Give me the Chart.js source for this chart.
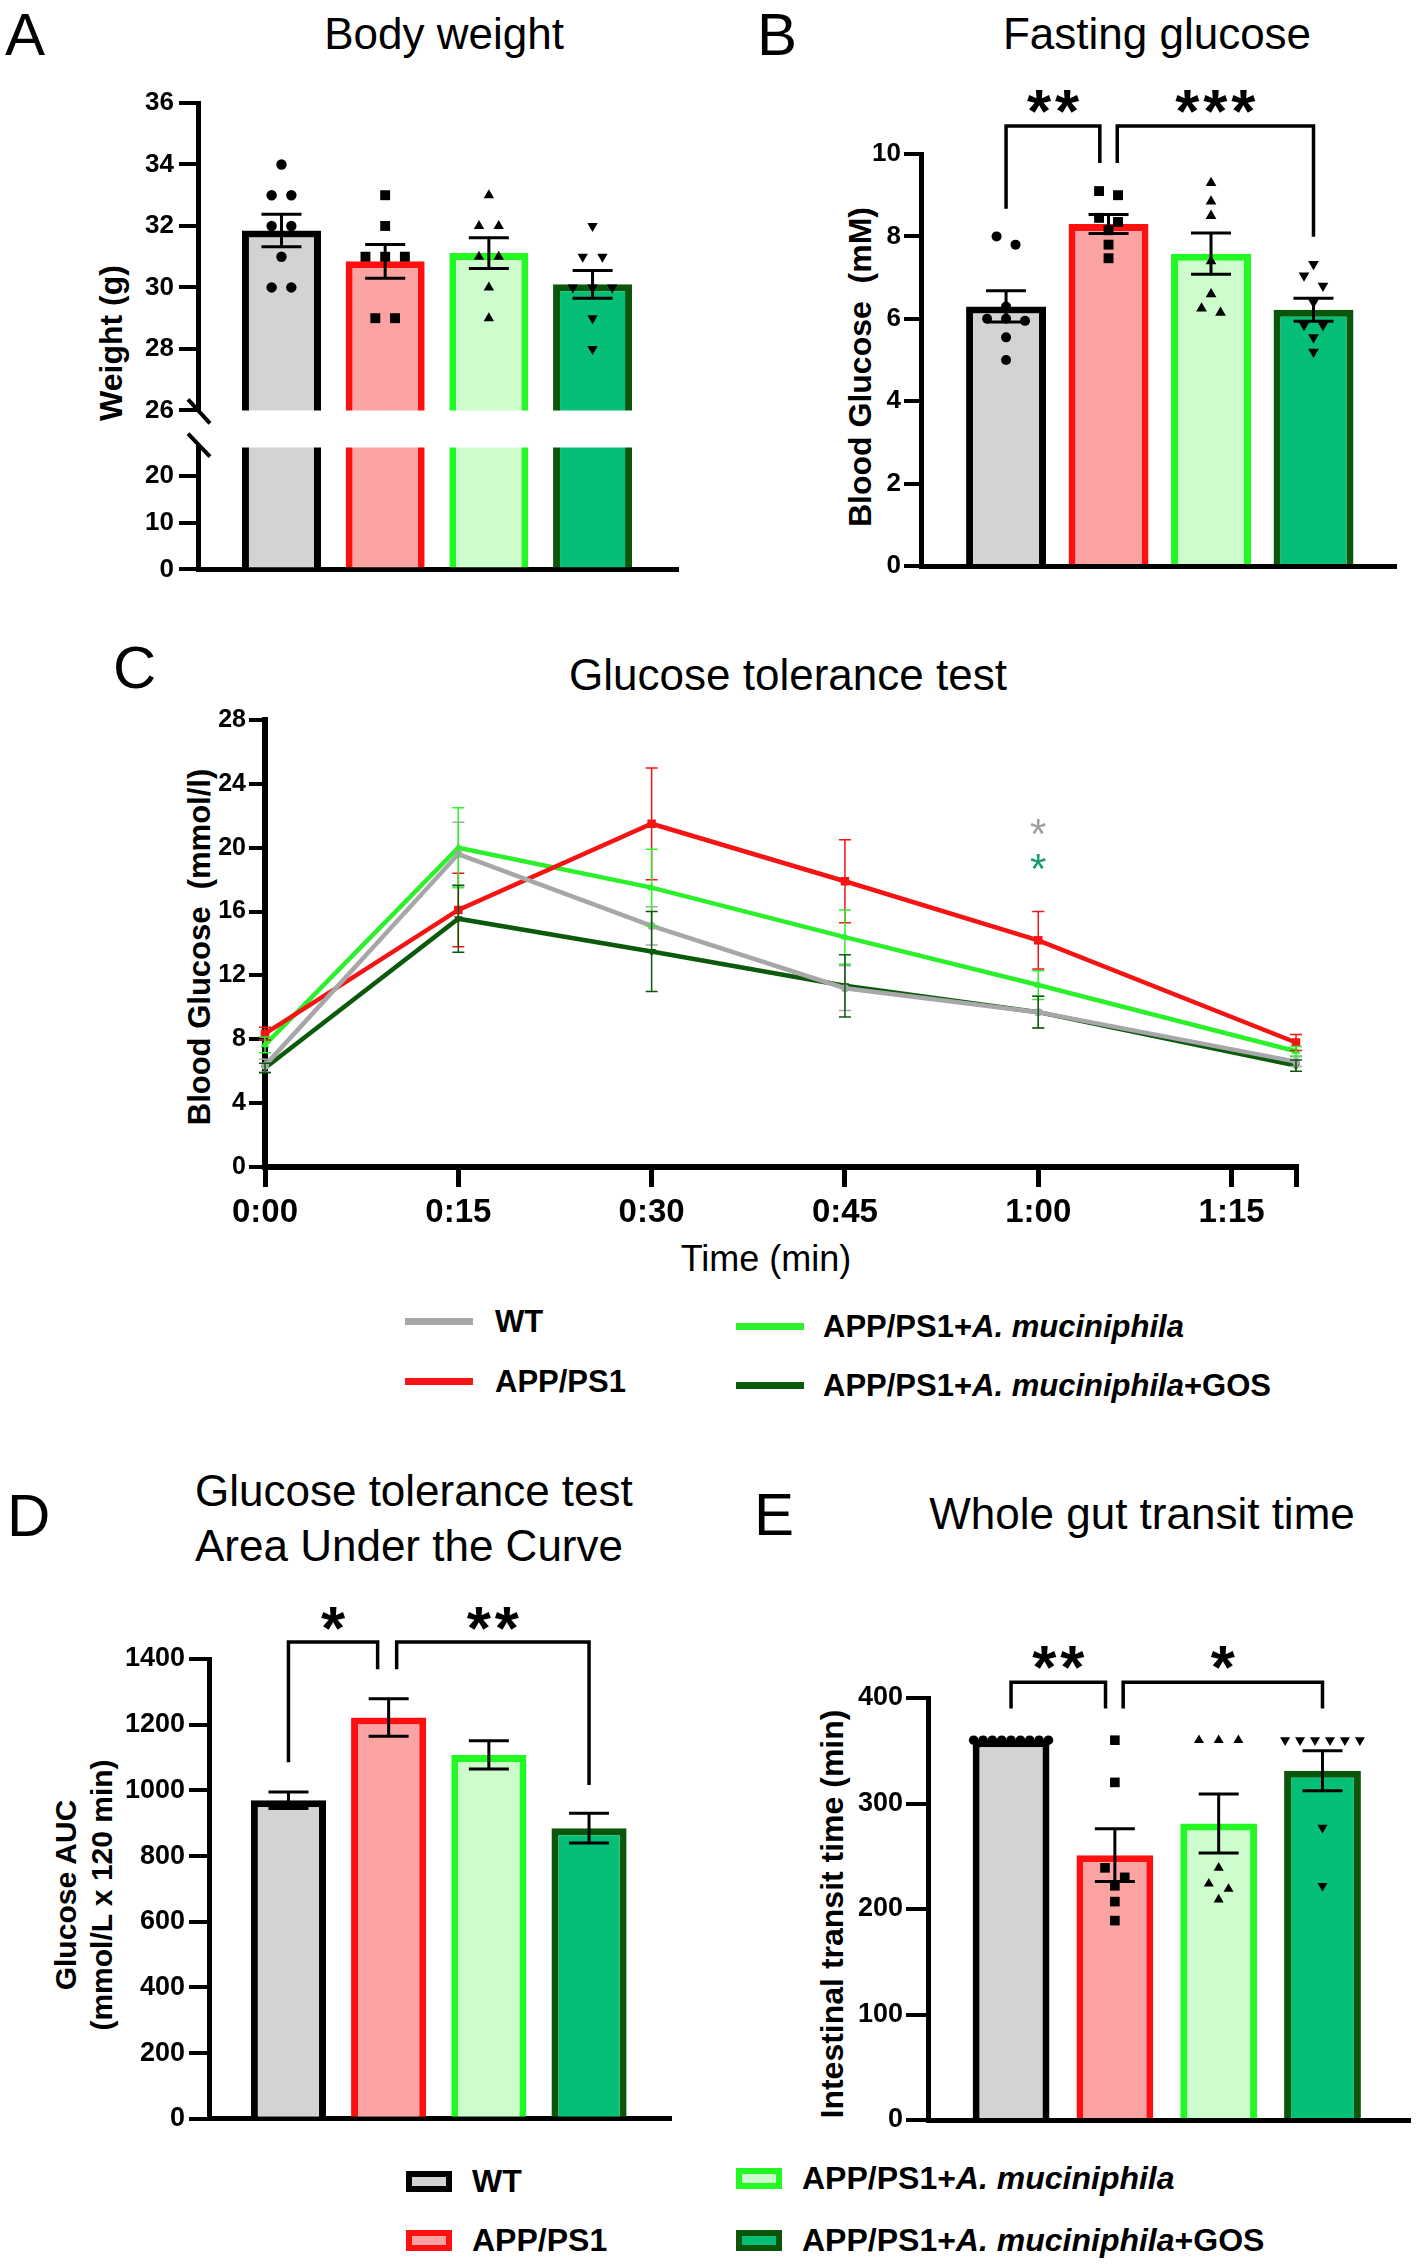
<!DOCTYPE html>
<html>
<head>
<meta charset="utf-8">
<title>Body weight, glucose tolerance and gut transit</title>
<script src="https://cdn.jsdelivr.net/npm/chart.js@4.4.1/dist/chart.umd.min.js"></script>
<style>
  body { margin: 0; background: #fff; }
  #fig { position: relative; width: 1418px; height: 2266px; overflow: hidden; background: #fff;
         font-family: "Liberation Sans", Arial, sans-serif; color: #000; }
  #fig canvas { position: absolute; }
  .t { position: absolute; line-height: 1; white-space: pre; }
  .c { transform: translate(-50%, -50%); }
  .l { transform: translateY(-50%); }
  .r { transform: translate(-50%, -50%) rotate(-90deg); text-align: center; }
  .b { font-weight: bold; }
  .title { font-size: 44px; }
  .panel { font-size: 60px; }
  .leg { font-size: 31px; font-weight: bold; }
  .leg2 { font-size: 32px; font-weight: bold; }
  .sw { position: absolute; height: 7px; width: 68px; }
  .box { position: absolute; width: 46px; height: 21px; border: 6px solid; box-sizing: border-box; }
</style>
</head>
<body>
<div id="fig">
  <div class="t l panel" style="left:5px;top:35px">A</div>
  <div class="t l panel" style="left:757px;top:35px">B</div>
  <div class="t l panel" style="left:113px;top:668px">C</div>
  <div class="t l panel" style="left:7px;top:1516px">D</div>
  <div class="t l panel" style="left:754px;top:1515px">E</div>

  <div class="t c title" style="left:444px;top:34px">Body weight</div>
  <div class="t c title" style="left:1157px;top:34px">Fasting glucose</div>
  <div class="t c title" style="left:788px;top:675px">Glucose tolerance test</div>
  <div class="t l title" style="left:195px;top:1491px">Glucose tolerance test</div>
  <div class="t l title" style="left:195px;top:1546px">Area Under the Curve</div>
  <div class="t c title" style="left:1142px;top:1514px">Whole gut transit time</div>

  <div class="t r b" style="left:111px;top:343px;font-size:32px">Weight (g)</div>
  <div class="t r b" style="left:860px;top:367px;font-size:32px">Blood Glucose  (mM)</div>
  <div class="t r b" style="left:199px;top:947px;font-size:31px">Blood Glucose  (mmol/l)</div>
  <div class="t c" style="left:766px;top:1259px;font-size:36px">Time (min)</div>
  <div class="t r b" style="left:84px;top:1895px;font-size:30px;line-height:36px">Glucose AUC
(mmol/L x 120 min)</div>
  <div class="t r b" style="left:832px;top:1914px;font-size:32px">Intestinal transit time (min)</div>

  <!-- legend of panel C -->
  <div class="sw" style="left:405px;top:1318px;background:#a7a7aa"></div>
  <div class="t l leg" style="left:495px;top:1321px">WT</div>
  <div class="sw" style="left:405px;top:1378px;background:#f41414"></div>
  <div class="t l leg" style="left:495px;top:1381px">APP/PS1</div>
  <div class="sw" style="left:736px;top:1323px;background:#2cf02c"></div>
  <div class="t l leg" style="left:823px;top:1326px">APP/PS1+<i>A. muciniphila</i></div>
  <div class="sw" style="left:736px;top:1382px;background:#0b5a0b"></div>
  <div class="t l leg" style="left:823px;top:1385px">APP/PS1+<i>A. muciniphila</i>+GOS</div>

  <!-- legend of the bar panels -->
  <div class="box" style="left:406px;top:2171px;border-color:#000;background:#d3d3d3"></div>
  <div class="t l leg2" style="left:472px;top:2181px">WT</div>
  <div class="box" style="left:406px;top:2230px;border-color:#ff1010;background:#fba3a3"></div>
  <div class="t l leg2" style="left:472px;top:2240px">APP/PS1</div>
  <div class="box" style="left:736px;top:2168px;border-color:#22f822;background:#cdfccd"></div>
  <div class="t l leg2" style="left:802px;top:2178px">APP/PS1+<i>A. muciniphila</i></div>
  <div class="box" style="left:736px;top:2230px;border-color:#0b560b;background:#05bf77"></div>
  <div class="t l leg2" style="left:802px;top:2240px">APP/PS1+<i>A. muciniphila</i>+GOS</div>
</div>

<script>
const FONT = '"Liberation Sans", Arial, sans-serif';

const groups = ["WT", "APP/PS1", "APP/PS1+A. muciniphila", "APP/PS1+A. muciniphila+GOS"];

// A - body weight (g)
const weightMean = [31.85, 30.85, 31.12, 30.1];
const weightSem = [0.53, 0.55, 0.5, 0.45];
const weightWT = [34, 33, 33, 32, 32, 31, 30, 30];
const weightAPP = [33, 32, 31, 31, 31, 29, 29];
const weightAkm = [33, 32, 32, 31, 31, 30, 29];
const weightGos = [32, 31, 31, 30, 30, 30, 29, 28];
const weightTicksTop = [26, 28, 30, 32, 34, 36];
const weightTicksBottom = [0, 10, 20];

// B - fasting glucose (mM)
const fastMean = [6.3, 8.3, 7.58, 6.22];
const fastSem = [0.38, 0.23, 0.5, 0.28];
const fastWT = [8.0, 7.8, 6.3, 6.0, 6.0, 5.95, 5.55, 5.0];
const fastAPP = [9.1, 9.0, 8.45, 8.35, 8.15, 7.8, 7.47];
const fastAkm = [9.3, 8.85, 8.5, 7.4, 6.6, 6.25, 6.15];
const fastGos = [7.33, 7.05, 6.8, 6.4, 5.85, 5.85, 5.55, 5.2];
const fastTicks = [0, 2, 4, 6, 8, 10];
const fastSig = ["**", "***"];

// C - glucose tolerance test (mmol/l)
const gttTimes = [0, 15, 30, 45, 60, 80];
const gttWT = [6.35, 19.6, 15.1, 11.2, 9.7, 6.6];
const gttWTSem = [0.4, 2.0, 1.2, 1.4, 1.0, 0.3];
const gttAPP = [8.35, 16.1, 21.5, 17.9, 14.2, 7.8];
const gttAPPSem = [0.4, 2.3, 3.5, 2.6, 1.8, 0.5];
const gttAkm = [7.65, 20.0, 17.5, 14.4, 11.4, 7.25];
const gttAkmSem = [0.5, 2.5, 2.4, 1.7, 0.9, 0.3];
const gttGos = [6.2, 15.55, 13.5, 11.35, 9.7, 6.35];
const gttGosSem = [0.3, 2.1, 2.5, 1.95, 1.0, 0.35];
const gttXTicks = [0, 15, 30, 45, 60, 75, 80];
const gttXLabels = ["0:00", "0:15", "0:30", "0:45", "1:00", "1:15", ""];
const gttYTicks = [0, 4, 8, 12, 16, 20, 24, 28];

// D - AUC
const aucMean = [970, 1222, 1108, 885];
const aucSem = [25, 57, 43, 45];
const aucTicks = [0, 200, 400, 600, 800, 1000, 1200, 1400];
const aucSig = ["*", "**"];

// E - whole gut transit time (min)
const transitMean = [360, 251, 281, 331];
const transitSem = [0, 25, 28, 19];
const transitWT = [360, 360, 360, 360, 360, 360, 360, 360, 360];
const transitAPP = [360, 320, 239, 230, 222, 207, 189];
const transitAkm = [360, 360, 360, 239, 224, 219, 209];
const transitGos = [360, 360, 360, 360, 360, 360, 277, 222];
const transitTicks = [0, 100, 200, 300, 400];
const transitSig = ["**", "*"];

// styles
const barFill = ["#d3d3d3", "#fba3a3", "#cdfccd", "#05bf77"];
const barEdge = ["#000000", "#ff1010", "#22f822", "#0b560b"];
const lineColor = ["#a7a7aa", "#f41414", "#2cf02c", "#0b5a0b"];
const markers = ["circle", "rect", "triangle", "triangle"];
const markerRot = [0, 0, 0, 180];

function makeCanvas(id, area, m) {
  const c = document.createElement("canvas");
  c.id = id;
  const w = area.right - area.left + m.l + m.r;
  const h = area.bottom - area.top + m.t + m.b;
  c.width = w;
  c.height = h;
  c.style.left = (area.left - m.l) + "px";
  c.style.top = (area.top - m.t) + "px";
  c.style.width = w + "px";
  c.style.height = h + "px";
  document.getElementById("fig").appendChild(c);
  return c;
}

// spread equal-ish values sideways, like a column scatter
function spread(values, thr, step, maxW) {
  const idx = values.map((v, i) => i).sort((a, b) => values[b] - values[a]);
  const off = new Array(values.length).fill(0);
  let k = 0;
  while (k < idx.length) {
    let j = k;
    while (j + 1 < idx.length && values[idx[k]] - values[idx[j + 1]] <= thr) j++;
    const n = j - k + 1;
    const s = n > 1 ? Math.min(step, maxW / (n - 1)) : 0;
    for (let q = 0; q < n; q++) off[idx[k + q]] = (q - (n - 1) / 2) * s;
    k = j + 1;
  }
  return off;
}

function semBars(means, sems, capW) {
  return {
    id: "semBars",
    afterDatasetsDraw(chart) {
      const { ctx, scales: { x, y } } = chart;
      ctx.save();
      ctx.strokeStyle = "#000";
      ctx.lineWidth = 3;
      means.forEach((mv, i) => {
        if (!sems[i]) return;
        const px = x.getPixelForValue(i);
        const hi = y.getPixelForValue(mv + sems[i]);
        const lo = y.getPixelForValue(mv - sems[i]);
        ctx.beginPath();
        ctx.moveTo(px, lo); ctx.lineTo(px, hi);
        ctx.moveTo(px - capW / 2, hi); ctx.lineTo(px + capW / 2, hi);
        ctx.moveTo(px - capW / 2, lo); ctx.lineTo(px + capW / 2, lo);
        ctx.stroke();
      });
      ctx.restore();
    }
  };
}

function drawStars(ctx, text, cx, cy, size, gap, color) {
  ctx.fillStyle = color;
  ctx.textAlign = "center";
  ctx.textBaseline = "alphabetic";
  const n = text.length;
  for (let k = 0; k < n; k++) {
    ctx.fillText("*", cx + (k - (n - 1) / 2) * gap, cy + 0.585 * size);
  }
}

// significance brackets: [from, to, top, leftLegEnd, rightLegEnd]
function brackets(list, labels, starY) {
  return {
    id: "brackets",
    afterDraw(chart) {
      const { ctx, scales: { x, y } } = chart;
      ctx.save();
      ctx.strokeStyle = "#000";
      ctx.lineWidth = 3.5;
      ctx.font = "bold 62px " + FONT;
      list.forEach((b, i) => {
        const x1 = x.getPixelForValue(b[0]);
        const x2 = x.getPixelForValue(b[1]);
        const yt = y.getPixelForValue(b[2]);
        ctx.beginPath();
        ctx.moveTo(x1, y.getPixelForValue(b[3]));
        ctx.lineTo(x1, yt);
        ctx.lineTo(x2, yt);
        ctx.lineTo(x2, y.getPixelForValue(b[4]));
        ctx.stroke();
        drawStars(ctx, labels[i], (x1 + x2) / 2, y.getPixelForValue(starY), 62, 28, "#000");
      });
      ctx.restore();
    }
  };
}

function barPanel(id, area, m, cfg) {
  const canvas = makeCanvas(id, area, m);
  const pts = (cfg.points || []).map((vals, g) => {
    const off = spread(vals, cfg.thr, cfg.step, cfg.maxW);
    return {
      type: "scatter",
      data: vals.map((v, k) => ({ x: g + off[k], y: v })),
      pointStyle: markers[g],
      pointRotation: markerRot[g],
      pointRadius: cfg.radius[g],
      backgroundColor: "#000",
      borderColor: "#000",
      borderWidth: 0,
      order: 1,
      clip: false
    };
  });
  return new Chart(canvas, {
    type: "bar",
    data: {
      datasets: [
        {
          type: "bar",
          label: "mean",
          data: cfg.means.map((v, i) => ({ x: i, y: v })),
          backgroundColor: barFill,
          borderColor: barEdge,
          borderWidth: 7,
          borderSkipped: "start",
          barPercentage: cfg.barW,
          categoryPercentage: 1,
          order: 2,
          clip: 0
        },
        ...pts
      ]
    },
    options: {
      responsive: false,
      animation: false,
      events: [],
      layout: { padding: { left: 0, top: m.t, right: m.r, bottom: 0 } },
      plugins: { legend: { display: false }, tooltip: { enabled: false } },
      scales: {
        x: {
          type: "linear",
          min: cfg.xMin,
          max: cfg.xMax,
          offset: false,
          afterBuildTicks: (s) => { s.ticks = groups.map((g, i) => ({ value: i })); },
          afterFit: (s) => { s.height = m.b; },
          grid: { display: false },
          ticks: { display: false },
          border: { display: cfg.xLine !== false, width: 5, color: "#000" }
        },
        y: {
          type: "linear",
          min: cfg.yMin,
          max: cfg.yMax,
          afterBuildTicks: (s) => { s.ticks = cfg.ticks.map((v) => ({ value: v })); },
          afterFit: (s) => { s.width = m.l; },
          grid: { drawOnChartArea: false, tickLength: cfg.tl, tickWidth: 4, tickColor: "#000", lineWidth: 4, color: "#000" },
          border: { width: 5, color: "#000" },
          ticks: { color: "#000", padding: cfg.tp, callback: (v) => String(v),
                   font: { family: FONT, size: cfg.fs, weight: "bold" } }
        }
      }
    },
    plugins: cfg.plugins || []
  });
}

// axis break marks for panel A
const breakTop = {
  id: "breakTop",
  afterDraw(chart) {
    const { ctx, chartArea: a } = chart;
    ctx.save();
    ctx.strokeStyle = "#000";
    ctx.lineWidth = 4;
    ctx.beginPath();
    ctx.moveTo(a.left - 10, a.bottom - 11);
    ctx.lineTo(a.left + 12, a.bottom + 13);
    ctx.stroke();
    ctx.restore();
  }
};
const breakBottom = {
  id: "breakBottom",
  afterDraw(chart) {
    const { ctx, chartArea: a } = chart;
    ctx.save();
    ctx.strokeStyle = "#000";
    ctx.lineWidth = 4;
    ctx.beginPath();
    ctx.moveTo(a.left - 10, a.top - 14);
    ctx.lineTo(a.left + 12, a.top + 9);
    ctx.stroke();
    ctx.restore();
  }
};

// Panel A, upper part (26-36)
barPanel("a-top", { left: 198, top: 103, right: 678, bottom: 411 }, { l: 60, t: 25, r: 10, b: 20 }, {
  means: weightMean, points: [weightWT, weightAPP, weightAkm, weightGos],
  thr: 0.5, step: 0.19, maxW: 0.6, radius: [5.2, 7, 6, 6],
  xMin: -0.805, xMax: 3.824, barW: 0.762, xLine: false,
  yMin: 26, yMax: 36, ticks: weightTicksTop, tl: 19, tp: 5, fs: 26,
  plugins: [semBars(weightMean, weightSem, 40), breakTop]
});
// Panel A, lower part (0-26)
barPanel("a-bottom", { left: 198, top: 447, right: 678, bottom: 570 }, { l: 60, t: 20, r: 10, b: 20 }, {
  means: weightMean,
  xMin: -0.805, xMax: 3.824, barW: 0.762,
  yMin: 0, yMax: 26, ticks: weightTicksBottom, tl: 19, tp: 5, fs: 26,
  plugins: [breakBottom]
});

// Panel B
barPanel("b", { left: 921, top: 154, right: 1396, bottom: 566 }, { l: 60, t: 100, r: 15, b: 20 }, {
  means: fastMean, points: [fastWT, fastAPP, fastAkm, fastGos],
  thr: 0.27, step: 0.185, maxW: 0.6, radius: [5, 7, 6.2, 6.2],
  xMin: -0.83, xMax: 3.805, barW: 0.78,
  yMin: 0, yMax: 10, ticks: fastTicks, tl: 17, tp: 3, fs: 26,
  plugins: [semBars(fastMean, fastSem, 40),
    brackets([[0, 0.915, 10.68, 8.67, 9.78], [1.085, 3, 10.68, 9.78, 7.99]], fastSig, 11.41)]
});

// Panel D
barPanel("d", { left: 209, top: 1659, right: 671, bottom: 2119 }, { l: 85, t: 80, r: 10, b: 20 }, {
  means: aucMean,
  xMin: -0.793, xMax: 3.818, barW: 0.75,
  yMin: 0, yMax: 1400, ticks: aucTicks, tl: 20, tp: 4, fs: 27,
  plugins: [semBars(aucMean, aucSem, 40),
    brackets([[0, 0.89, 1452, 1086, 1369], [1.08, 3, 1452, 1369, 1016]], aucSig, 1540)]
});

// Panel E
barPanel("e", { left: 928, top: 1698, right: 1410, bottom: 2120 }, { l: 80, t: 70, r: 8, b: 20 }, {
  means: transitMean, points: [transitWT, transitAPP, transitAkm, transitGos],
  thr: 9, step: 0.19, maxW: 0.72, radius: [4.8, 6.8, 5.8, 5.8],
  xMin: -0.80, xMax: 3.843, barW: 0.74,
  yMin: 0, yMax: 400, ticks: transitTicks, tl: 22, tp: 3, fs: 27,
  plugins: [semBars(transitMean, transitSem, 40),
    brackets([[0, 0.91, 415, 390, 390], [1.08, 3, 415, 390, 390]], transitSig, 444)]
});

// Panel C - line chart
const gttSeries = [
  { label: groups[0], vals: gttWT, sem: gttWTSem, r: 4 },
  { label: groups[1], vals: gttAPP, sem: gttAPPSem, r: 6 },
  { label: groups[2], vals: gttAkm, sem: gttAkmSem, r: 5 },
  { label: groups[3], vals: gttGos, sem: gttGosSem, r: 5 }
];

const gttErr = {
  id: "gttErr",
  afterDatasetsDraw(chart) {
    const { ctx, scales: { x, y } } = chart;
    ctx.save();
    ctx.lineWidth = 1.5;
    gttSeries.forEach((s, si) => {
      ctx.strokeStyle = lineColor[si];
      s.vals.forEach((v, i) => {
        const px = x.getPixelForValue(gttTimes[i]);
        const hi = y.getPixelForValue(v + s.sem[i]);
        const lo = y.getPixelForValue(v - s.sem[i]);
        ctx.beginPath();
        ctx.moveTo(px, lo); ctx.lineTo(px, hi);
        ctx.moveTo(px - 6, hi); ctx.lineTo(px + 6, hi);
        ctx.moveTo(px - 6, lo); ctx.lineTo(px + 6, lo);
        ctx.stroke();
      });
    });
    ctx.restore();
  }
};

const gttStars = {
  id: "gttStars",
  afterDraw(chart) {
    const { ctx, scales: { x, y } } = chart;
    ctx.save();
    ctx.font = "42px " + FONT;
    drawStars(ctx, "*", x.getPixelForValue(60), y.getPixelForValue(21.5), 42, 0, "#a0a0a0");
    drawStars(ctx, "*", x.getPixelForValue(60), y.getPixelForValue(19.3), 42, 0, "#169b6b");
    ctx.restore();
  }
};

const cArea = { left: 265, top: 720, right: 1296, bottom: 1167 };
const cM = { l: 75, t: 20, r: 40, b: 70 };
new Chart(makeCanvas("c", cArea, cM), {
  type: "line",
  data: {
    datasets: gttSeries.map((s, si) => ({
      label: s.label,
      data: gttTimes.map((t, i) => ({ x: t, y: s.vals[i] })),
      borderColor: lineColor[si],
      backgroundColor: lineColor[si],
      borderWidth: 4.5,
      pointStyle: markers[si],
      pointRotation: markerRot[si],
      pointRadius: s.r,
      pointBorderWidth: 0,
      tension: 0,
      clip: 12
    }))
  },
  options: {
    responsive: false,
    animation: false,
    events: [],
    layout: { padding: { left: 0, top: cM.t, right: cM.r, bottom: 0 } },
    plugins: { legend: { display: false }, tooltip: { enabled: false } },
    scales: {
      x: {
        type: "linear",
        min: 0,
        max: 80,
        afterBuildTicks: (s) => { s.ticks = gttXTicks.map((v) => ({ value: v })); },
        afterFit: (s) => { s.height = cM.b; },
        grid: { drawOnChartArea: false, tickLength: 20, tickWidth: 5, tickColor: "#000", lineWidth: 5 },
        border: { width: 6, color: "#000" },
        ticks: {
          autoSkip: false, maxRotation: 0, color: "#000", padding: 6,
          font: { family: FONT, size: 33, weight: "bold" },
          callback: (v, i) => gttXLabels[i]
        }
      },
      y: {
        type: "linear",
        min: 0,
        max: 28,
        afterBuildTicks: (s) => { s.ticks = gttYTicks.map((v) => ({ value: v })); },
        afterFit: (s) => { s.width = cM.l; },
        grid: { drawOnChartArea: false, tickLength: 16, tickWidth: 4, tickColor: "#000", lineWidth: 4 },
        border: { width: 6, color: "#000" },
        ticks: { color: "#000", padding: 3, callback: (v) => String(v),
                 font: { family: FONT, size: 25, weight: "bold" } }
      }
    }
  },
  plugins: [gttErr, gttStars]
});
</script>
</body>
</html>
